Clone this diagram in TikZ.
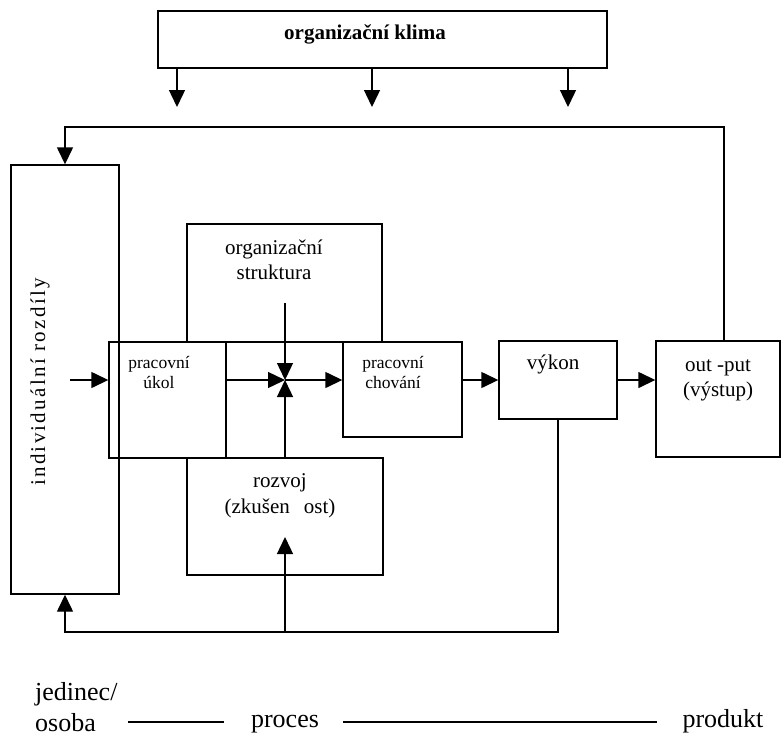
\documentclass[tikz,border=0pt]{standalone}
\usepackage{fontspec}
\setmainfont{Liberation Serif}
\usetikzlibrary{arrows.meta}
\tikzset{
  box/.style={draw, line width=1.4pt, rectangle, inner sep=0pt, anchor=center},
  txt/.style={inner sep=0pt, align=center},
  arr/.style={line width=1.4pt, -{Triangle[width=16pt,length=17pt]}},
  ln/.style={line width=1.4pt},
  big/.style={font=\fontsize{21}{25}\selectfont},
  small/.style={font=\fontsize{17.5}{20}\selectfont},
  bottomtxt/.style={font=\fontsize{26}{31}\selectfont},
}
\begin{document}
\begin{tikzpicture}[x=1pt,y=-1pt]
\useasboundingbox (0,0) rectangle (783,737);
% boxes
\node[box, minimum width=449pt, minimum height=57pt] (klima) at (382.5,39.5) {};
\node[box, minimum width=108pt, minimum height=429pt] (indiv) at (65,379.5) {};
\node[box, minimum width=195pt, minimum height=118pt] (struk) at (284.5,283) {};
\node[box, minimum width=196pt, minimum height=117pt] (rozvoj) at (285,516.5) {};
\node[box, minimum width=117pt, minimum height=116pt] (ukol) at (167.5,400) {};
\node[box, minimum width=119pt, minimum height=95pt] (chov) at (402.5,389.5) {};
\node[box, minimum width=118pt, minimum height=78pt] (vykon) at (558,380) {};
\node[box, minimum width=124pt, minimum height=116pt] (output) at (718,399) {};
% texts
\node[txt, big, font=\fontsize{21}{25}\selectfont\bfseries] (tklima) at (365,34) {organizační klima};
\node[txt, big, rotate=90] (tindiv) at (40,382) {\addfontfeature{LetterSpace=11}individuální rozdíly};
\node[txt, big] (tstruk) at (274,260) {organizační\\struktura};
\node[txt, small] (tukol) at (159,372) {pracovní\\úkol};
\node[txt, small] (tchov) at (393,372) {pracovní\\chování};
\node[txt, big] (tvykon) at (553,364) {výkon};
\node[txt, big] (toutput) at (718,380) {out -put\\(výstup)};
\node[txt, big, font=\fontsize{21}{26}\selectfont] (trozvoj) at (280,496) {rozvoj\\(zkušen\hspace{14pt}ost)};
% bottom legend
\node[txt, bottomtxt, align=left, anchor=south west] (jedinec) at (35,732) {jedinec/\\osoba};
\node[txt, bottomtxt, anchor=base] (proces) at (285,727) {proces};
\node[txt, bottomtxt, anchor=base] (produkt) at (723,727) {produkt};
\coordinate (d1a) at (128,722);
\coordinate (d1b) at (224,722);
\coordinate (d2a) at (343,722);
\coordinate (d2b) at (657,722);
\draw[ln] (d1a) -- (d1b);
\draw[ln] (d2a) -- (d2b);
% climate arrows
\coordinate (k1) at (177,107);
\coordinate (k2) at (372,107);
\coordinate (k3) at (568,107);
\draw[arr] (klima.south -| k1) -- (k1);
\draw[arr] (klima.south -| k2) -- (k2);
\draw[arr] (klima.south -| k3) -- (k3);
% top feedback
\coordinate (topc) at (724,127);
\draw[arr] (output.north -| topc) -- (topc) -| (indiv.north);
% inner connections
\coordinate (J) at (285,380);
\coordinate (inS) at (70,380);
\coordinate (sS) at (285,303);
\draw[arr] (inS) -- (ukol.west |- inS);
\draw[arr] (ukol.east |- J) -- (J);
\draw[arr] (sS) -- (J);
\draw[arr] (rozvoj.north) -- (J);
\draw[arr] (J) -- (chov.west |- J);
\draw[arr] (chov.east |- J) -- (vykon.west |- J);
\draw[arr] (vykon.east) -- (output.west |- vykon.east);
% bottom feedback
\coordinate (bR) at (558,632);
\coordinate (bM) at (285,632);
\coordinate (rT) at (285,537);
\draw[arr] (vykon.south) -- (bR) -| (indiv.south);
\draw[arr] (bM) -- (rT);
\end{tikzpicture}
\end{document}
